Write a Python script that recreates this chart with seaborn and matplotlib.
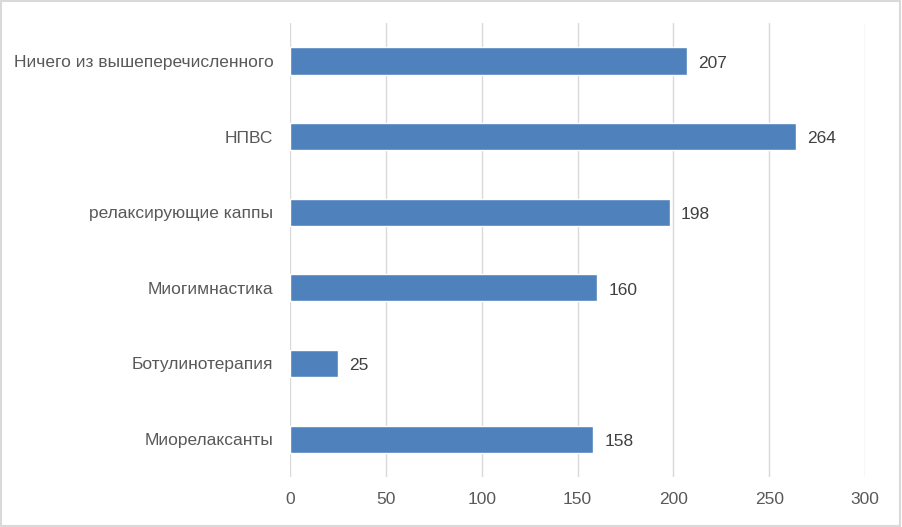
import matplotlib
matplotlib.use("Agg")
import matplotlib.pyplot as plt
import seaborn as sns
import pandas as pd

# категории сверху вниз, как на картинке
categories = ["Ничего из вышеперечисленного", "НПВС", "релаксирующие каппы",
              "Миогимнастика", "Ботулинотерапия", "Миорелаксанты"]
values = [207, 264, 198, 160, 25, 158]
x_ticks = [0, 50, 100, 150, 200, 250, 300]

df = pd.DataFrame({"cat": categories, "val": values})

sns.set_theme(style="white")
plt.rcParams['font.family'] = ['Liberation Sans', 'DejaVu Sans']

fig = plt.figure(figsize=(9.02, 5.27), dpi=100)
ax = fig.add_axes([0.3215, 0.095, 0.6375, 0.861])

sns.barplot(data=df, x="val", y="cat", orient="h", color="#4F81BD",
            saturation=1, width=0.36, ax=ax)

ax.set_xlim(0, 300)
ax.set_xticks(x_ticks)
ax.xaxis.grid(True, color="#D9D9D9", linewidth=1)
ax.set_axisbelow(True)
for s in ax.spines.values():
    s.set_visible(False)
ax.set_xlabel("")
ax.set_ylabel("")
ax.tick_params(axis="y", length=0, labelsize=12.5, colors="#595959", pad=12)
ax.tick_params(axis="x", length=0, labelsize=12.5, colors="#595959", pad=11)

for i, v in enumerate(values):
    ax.text(v + 6, i + 0.03, str(v), va="center", ha="left", fontsize=12.5, color="#404040")

# рамка вокруг всего рисунка
fig.patches.append(plt.Rectangle((0.001, 0.001), 0.997, 0.997, transform=fig.transFigure,
                                 fill=False, edgecolor="#D9D9D9", linewidth=1.5))

fig.savefig("out.png", dpi=100)
